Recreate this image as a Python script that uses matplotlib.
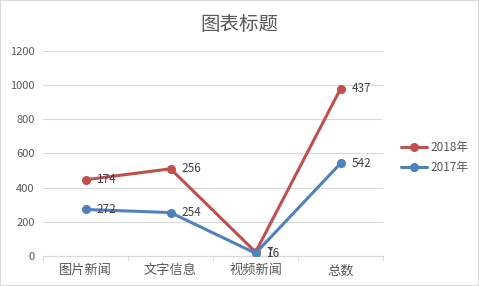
import matplotlib
matplotlib.use("Agg")
from matplotlib import pyplot as plt
import numpy as np

plt.rcParams['font.family'] = ['Noto Sans CJK SC', 'DejaVu Sans']

# categories and series (stacked line chart)
categories = ["图片新闻", "文字信息", "视频新闻", "总数"]
y2017 = [272, 254, 16, 542]
y2018 = [174, 256, 7, 437]

red = "#c0504d"
blue = "#4f81bd"
txt = "#404040"
tick_c = "#595959"

x = np.arange(len(categories))
stack2018 = np.array(y2017) + np.array(y2018)

fig = plt.figure(figsize=(4.79, 2.86), dpi=100)
ax = fig.add_axes([0.0898, 0.105, 0.71, 0.717])

ax.plot(x, stack2018, color=red, lw=2.2, marker="o", ms=5.5, label="2018年",
        solid_capstyle="round", zorder=3)
ax.plot(x, y2017, color=blue, lw=2.2, marker="o", ms=5.5, label="2017年",
        solid_capstyle="round", zorder=3)

# data labels show each series' own value
for xi, yi, v in zip(x, stack2018, y2018):
    ax.annotate(str(v), (xi, yi), xytext=(8, 0), textcoords="offset points",
                ha="left", va="center", fontsize=8.5, color=txt)
for xi, yi, v in zip(x, y2017, y2017):
    ax.annotate(str(v), (xi, yi), xytext=(8, 0), textcoords="offset points",
                ha="left", va="center", fontsize=8.5, color=txt)

ax.set_xlim(-0.5, len(categories) - 0.5)
ax.set_ylim(0, 1200)
ax.set_yticks(range(0, 1201, 200))
ax.set_xticks(x)
ax.set_xticklabels(categories)
ax.tick_params(axis="y", length=0, labelsize=8, colors=tick_c, pad=6)
ax.tick_params(axis="x", length=0, labelsize=9.5, colors=tick_c, pad=6)
for b in np.arange(-0.5, len(categories), 1.0):
    ax.plot([b, b], [0, -25], color="#d9d9d9", lw=0.8, clip_on=False)
ax.grid(axis="y", color="#d9d9d9", lw=0.8)
ax.set_axisbelow(True)
for s in ["top", "right", "left"]:
    ax.spines[s].set_visible(False)
ax.spines["bottom"].set_color("#d9d9d9")

fig.text(0.5, 0.915, "图表标题", ha="center", va="center", fontsize=14, color="#595959")

ax.legend(loc="center left", bbox_to_anchor=(1.02, 0.48), frameon=False,
          fontsize=8.5, labelcolor=tick_c, handlelength=2.2, handletextpad=0.3,
          labelspacing=0.65)

fig.patches.append(plt.Rectangle((0, 0), 1, 1, transform=fig.transFigure,
                                 fill=False, edgecolor="#d9d9d9", lw=1.5))

plt.savefig("out.png", dpi=100)
